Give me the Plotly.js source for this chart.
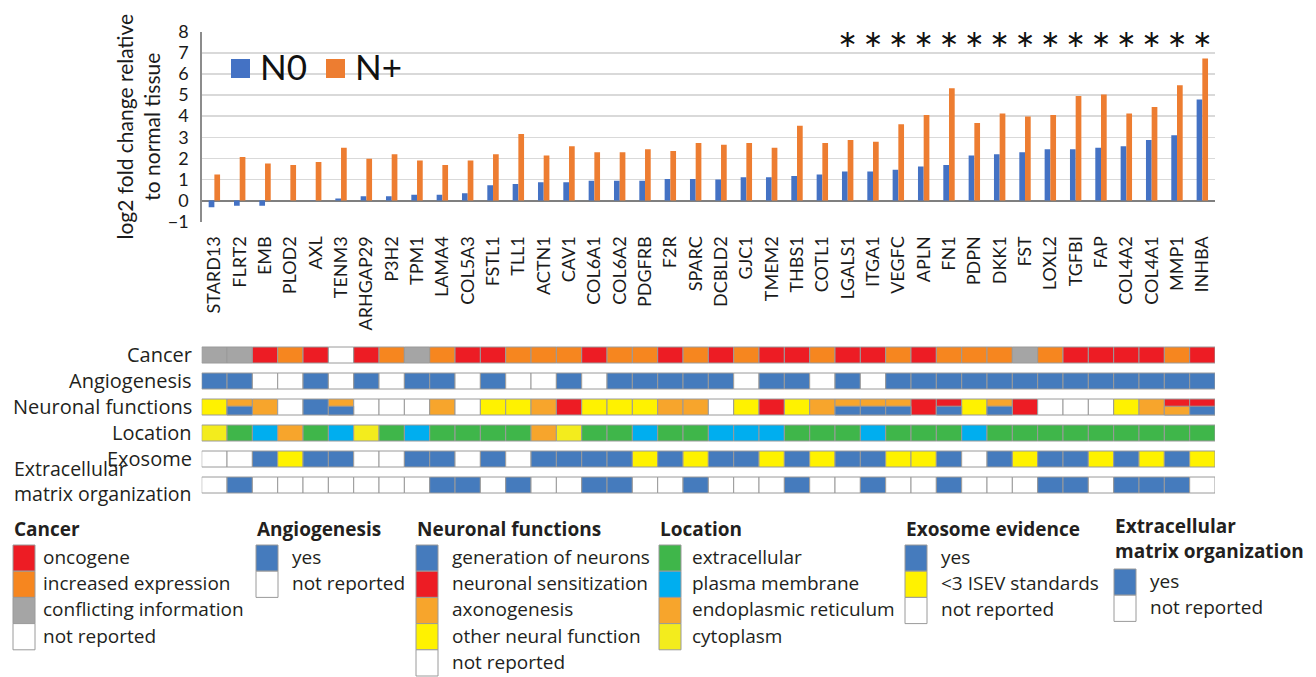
<!DOCTYPE html>
<html>
<head>
<meta charset="utf-8">
<script src="https://cdn.plot.ly/plotly-3.0.1.min.js"></script>
<style>html,body{margin:0;padding:0;background:#fff;}#chart{width:1316px;height:677px;}</style>
</head>
<body>
<div id="chart"></div>
<script>
// ---------------- DATA ----------------
const genes = ['STARD13','FLRT2','EMB','PLOD2','AXL','TENM3','ARHGAP29','P3H2','TPM1','LAMA4',
  'COL5A3','FSTL1','TLL1','ACTN1','CAV1','COL6A1','COL6A2','PDGFRB','F2R','SPARC',
  'DCBLD2','GJC1','TMEM2','THBS1','COTL1','LGALS1','ITGA1','VEGFC','APLN','FN1',
  'PDPN','DKK1','FST','LOXL2','TGFBI','FAP','COL4A2','COL4A1','MMP1','INHBA'];

const n0 = [-0.32,-0.24,-0.24,0.0,0.02,0.10,0.20,0.20,0.28,0.28,
  0.35,0.73,0.79,0.87,0.87,0.94,0.94,0.94,1.02,1.02,
  1.00,1.10,1.10,1.16,1.24,1.38,1.38,1.46,1.62,1.68,
  2.13,2.20,2.29,2.43,2.43,2.50,2.57,2.87,3.10,4.79];

const nPlus = [1.24,2.06,1.76,1.68,1.83,2.50,1.98,2.20,1.90,1.68,
  1.90,2.20,3.16,2.13,2.57,2.29,2.29,2.43,2.35,2.73,
  2.65,2.73,2.50,3.54,2.73,2.87,2.79,3.62,4.05,5.32,
  3.68,4.13,3.98,4.05,4.95,5.02,4.13,4.43,5.46,6.73];

const starredGenes = ['LGALS1','ITGA1','VEGFC','APLN','FN1','PDPN','DKK1','FST','LOXL2','TGFBI','FAP','COL4A2','COL4A1','MMP1','INHBA'];
const starLevel = 7.55;

// Cancer: O oncogene, I increased expression, C conflicting information, N not reported
const cancer = ['C','C','O','I','O','N','O','I','C','I','O','O','I','I','I','O','I','I','O','I',
  'O','I','O','O','I','O','O','I','O','I','I','I','C','I','O','O','O','O','I','O'];
// Angiogenesis: Y yes, N not reported
const angiogenesis = ['Y','Y','N','N','Y','N','Y','N','Y','Y','N','Y','N','N','Y','N','Y','Y','Y','Y',
  'Y','N','Y','Y','N','Y','N','Y','Y','Y','Y','Y','Y','Y','Y','Y','Y','Y','Y','Y'];
// Neuronal: G generation of neurons, S sensitization, A axonogenesis, O other, N not reported ("top/bottom" = split)
const neuronal = ['O','A/G','A','N','G','A/G','N','N','N','A','N','O','O','A','S','O','O','O','A','A',
  'N','O','S','O','A','A/G','A/G','A/G','S','S/G','O','A/G','S','N','N','N','O','A','S/A','S/G'];
// Location: E extracellular, P plasma membrane, R endoplasmic reticulum, C cytoplasm
const location_ = ['C','E','P','R','E','P','C','E','P','E','E','E','E','R','C','E','E','P','E','E',
  'P','P','P','E','E','E','P','E','E','E','P','E','E','E','E','E','E','E','E','E'];
// Exosome: Y yes, L <3 ISEV standards, N not reported
const exosome = ['N','N','Y','L','Y','Y','N','N','Y','Y','N','Y','N','Y','Y','Y','Y','L','Y','L',
  'Y','Y','L','Y','L','Y','Y','L','L','Y','N','Y','L','Y','Y','L','Y','L','Y','L'];
// Extracellular matrix organization: Y yes, N not reported
const ecm = ['N','Y','N','N','N','N','N','N','N','Y','Y','N','Y','N','N','Y','Y','N','N','Y',
  'N','N','N','Y','N','N','Y','N','N','Y','N','N','N','Y','Y','N','Y','Y','Y','N'];

const rowLabels = ['Cancer','Angiogenesis','Neuronal functions','Location','Exosome','Extracellular<br>matrix organization'];

// ---------------- STYLE ----------------
const C = {
  red:'#ED1C24', orange:'#F6861F', gray:'#A5A5A5', white:'#FFFFFF', blue:'#457BBD',
  lorange:'#F7A52C', yellow:'#FFF200', green:'#3FB64A', cyan:'#00AEEF', cyto:'#F3EC1D'
};
const pal = {
  cancer:{O:C.red,I:C.orange,C:C.gray,N:C.white},
  yn:{Y:C.blue,N:C.white},
  neuro:{G:C.blue,S:C.red,A:C.lorange,O:C.yellow,N:C.white},
  loc:{E:C.green,P:C.cyan,R:C.lorange,C:C.cyto},
  exo:{Y:C.blue,L:C.yellow,N:C.white}
};
const W = 1316, H = 677;
const px = x => x / W;
const py = y => 1 - y / H;
const chartFont = 'Lato, "Open Sans", sans-serif';
const legFont = '"Open Sans", "Noto Sans", sans-serif';
const txtColor = '#231F20';

// ---------------- TRACES ----------------
const traces = [];
traces.push({type:'bar', x:genes, y:n0, name:'N0', marker:{color:'#4472C4'}, xaxis:'x', yaxis:'y', showlegend:false});
traces.push({type:'bar', x:genes, y:nPlus, name:'N+', marker:{color:'#ED7D31'}, xaxis:'x', yaxis:'y', showlegend:false});
traces.push({type:'scatter', mode:'text', x:starredGenes, y:starredGenes.map(()=>starLevel),
  text:starredGenes.map(()=>'∗'), textfont:{family:'DejaVu Sans', size:24, color:'#111'},
  xaxis:'x', yaxis:'y4', showlegend:false, cliponaxis:false});

const cellH = 0.615;
const rows = [
  {codes:cancer, p:pal.cancer},
  {codes:angiogenesis, p:pal.yn},
  {codes:neuronal, p:pal.neuro},
  {codes:location_, p:pal.loc},
  {codes:exosome, p:pal.exo},
  {codes:ecm, p:pal.yn}
];
rows.forEach((r, k) => {
  const base = rows.length - 1 - k;
  traces.push({type:'bar', x:genes, y:genes.map(()=>cellH), base:base,
    width:1, offset:-0.5,
    marker:{color:r.codes.map(c => r.p[c.split('/')[0]]), line:{color:'#9A9A9A', width:1}},
    xaxis:'x2', yaxis:'y3', showlegend:false});
  const split = genes.filter((g,i) => r.codes[i].includes('/'));
  if (split.length) {
    traces.push({type:'bar', x:split, y:split.map(()=>cellH*0.55), base:base,
      width:1, offset:-0.5,
      marker:{color:split.map(g => r.p[r.codes[genes.indexOf(g)].split('/')[1]]), line:{color:'#9A9A9A', width:1}},
      xaxis:'x2', yaxis:'y3', showlegend:false});
  }
});

// ---------------- ANNOTATIONS & SHAPES ----------------
const annotations = [];
const shapes = [];

// row labels
rowLabels.forEach((lab, k) => {
  const yc = rows.length - 1 - k + cellH/2;
  const two = lab.includes('<br>');
  annotations.push({xref:'paper', yref:'y3', x:px(194), y:yc, xanchor:'right', yanchor:'middle',
    yshift: two ? 4 : 1, align: two ? 'left' : 'right',
    text:lab, showarrow:false, font:{family:legFont, size: two ? 19.5 : 20, color:txtColor}});
});

// N0 / N+ legend
const barLegend = [{t:'N0', c:'#4472C4', x:231}, {t:'N+', c:'#ED7D31', x:326}];
barLegend.forEach(b => {
  shapes.push({type:'rect', xref:'paper', yref:'paper', x0:px(b.x), x1:px(b.x+19), y0:py(78), y1:py(59),
    fillcolor:b.c, line:{width:0}});
  annotations.push({xref:'paper', yref:'paper', x:px(b.x+27), y:py(66), xanchor:'left', yanchor:'middle',
    text:b.t, showarrow:false, font:{family:chartFont, size:35, color:'#111'}});
});

// bottom legends
const legendGroups = [
  {title:'Cancer', x:13, lx:41, top:545, labels:['oncogene','increased expression','conflicting information','not reported'],
    colors:[C.red,C.orange,C.gray,C.white]},
  {title:'Angiogenesis', x:256, lx:290, top:545, labels:['yes','not reported'], colors:[C.blue,C.white]},
  {title:'Neuronal functions', x:416, lx:450, top:545,
    labels:['generation of neurons','neuronal sensitization','axonogenesis','other neural function','not reported'],
    colors:[C.blue,C.red,C.lorange,C.yellow,C.white]},
  {title:'Location', x:659, lx:690, top:545, labels:['extracellular','plasma membrane','endoplasmic reticulum','cytoplasm'],
    colors:[C.green,C.cyan,C.lorange,C.cyto]},
  {title:'Exosome evidence', x:905, lx:939, top:545, labels:['yes','<3 ISEV standards','not reported'],
    colors:[C.blue,C.yellow,C.white]},
  {title:'Extracellular<br>matrix organization', x:1114, lx:1148, top:569, labels:['yes','not reported'],
    colors:[C.blue,C.white]}
];
legendGroups.forEach(g => {
  const two = g.title.includes('<br>');
  annotations.push({xref:'paper', yref:'paper', x:px(g.x - 1), y:py(two ? 538 : 529),
    xanchor:'left', yanchor:'middle', align:'left', text:'<b>'+g.title.replace('<br>','</b><br><b>')+'</b>', showarrow:false,
    font:{family:legFont, size:19, color:txtColor}});
  g.labels.forEach((lab, i) => {
    const y0 = g.top + i*26.2;
    shapes.push({type:'rect', xref:'paper', yref:'paper', x0:px(g.x), x1:px(g.x+22), y0:py(y0+26.2), y1:py(y0),
      fillcolor:g.colors[i], line:{color:'#9A9A9A', width:1}});
    annotations.push({xref:'paper', yref:'paper', x:px(g.lx), y:py(y0+12), xanchor:'left', yanchor:'middle',
      text:lab.replace('<','&lt;'), showarrow:false, font:{family:legFont, size:19, color:txtColor}});
  });
});

// ---------------- LAYOUT ----------------
const xDom = [px(201.7), px(1215)];
const layout = {
  width:W, height:H,
  margin:{l:0, r:0, t:0, b:0},
  paper_bgcolor:'#fff', plot_bgcolor:'rgba(0,0,0,0)',
  barmode:'group', bargap:0.55, bargroupgap:0,
  showlegend:false,
  xaxis:{domain:xDom, anchor:'y', type:'category', categoryorder:'array', categoryarray:genes,
    range:[-0.5, genes.length-0.5], tickangle:-90, showline:false, showgrid:false, zeroline:false,
    ticks:'', ticklabelstandoff:10, tickfont:{family:chartFont, size:18, color:'#1a1a1a'}, automargin:false},
  yaxis:{domain:[py(221.7), py(31.7)], anchor:'x', range:[-1, 8], tickmode:'array',
    tickvals:[-1,0,1,2,3,4,5,6,7,8], showgrid:false, zeroline:true, zerolinecolor:'#7F7F7F', zerolinewidth:2,
    showline:true, linecolor:'#8C8C8C', linewidth:1.5, ticks:'', ticklabelstandoff:8,
    tickfont:{family:chartFont, size:18, color:'#1a1a1a'}, automargin:false,
    title:{text:'log2 fold change relative<br>to normal tissue', font:{family:chartFont, size:21, color:'#1a1a1a'}, standoff:1}},
  yaxis4:{overlaying:'y', anchor:'x', range:[-1, 8], tickmode:'array', tickvals:[1,2,3,4,5,6,7,8],
    showgrid:true, gridcolor:'#D9D9D9', gridwidth:1.5, showticklabels:false, zeroline:false, ticks:'', showline:false},
  xaxis2:{domain:xDom, anchor:'y3', type:'category', categoryorder:'array', categoryarray:genes,
    range:[-0.5, genes.length-0.5], showticklabels:false, showgrid:false, zeroline:false, ticks:'', showline:false},
  yaxis3:{domain:[py(498.2), py(342.2)], anchor:'x2', range:[-0.2, 5.8], showticklabels:false,
    showgrid:false, zeroline:false, ticks:'', showline:false},
  annotations:annotations,
  shapes:shapes
};

Plotly.newPlot('chart', traces, layout, {staticPlot:true, displayModeBar:false});
</script>
</body>
</html>
